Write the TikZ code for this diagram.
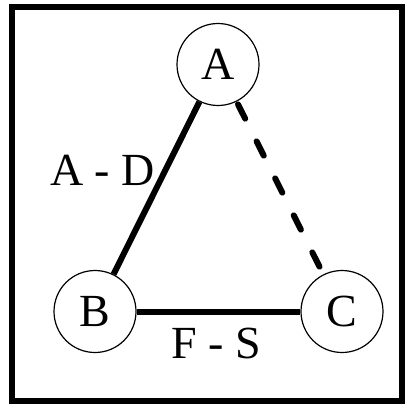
\documentclass[tikz,border=0pt]{standalone}
\usepackage{fontspec}
\setmainfont{Liberation Serif}
\begin{document}
\begin{tikzpicture}[x=1pt,y=-1pt,
  vertex/.style={circle,draw,line width=1.2pt,minimum size=82pt,inner sep=0pt,font=\fontsize{46}{46}\selectfont},
  edgelabel/.style={anchor=base,inner sep=0pt,font=\fontsize{46}{46}\selectfont},
  edgeline/.style={line width=6pt},
  dashedge/.style={line width=6pt,line cap=round,dash pattern=on 16pt off 25.4pt,dash phase=38.4pt}]
\useasboundingbox (0,0) rectangle (406,404);
\draw[line width=6pt] (12.3,7) rectangle (402,401);
\node[vertex] (A) at (218,64.5) {A};
\node[vertex] (B) at (95,311.5) {B};
\node[vertex] (C) at (342,311.5) {C};
\draw[edgeline] (A) -- (B);
\draw[edgeline] (B) -- (C);
\draw[dashedge] (A) -- (C);
\node[edgelabel] (ad) at (102.5,185) {A - D};
\node[edgelabel] (fs) at (216.5,358) {F - S};
\end{tikzpicture}
\end{document}
